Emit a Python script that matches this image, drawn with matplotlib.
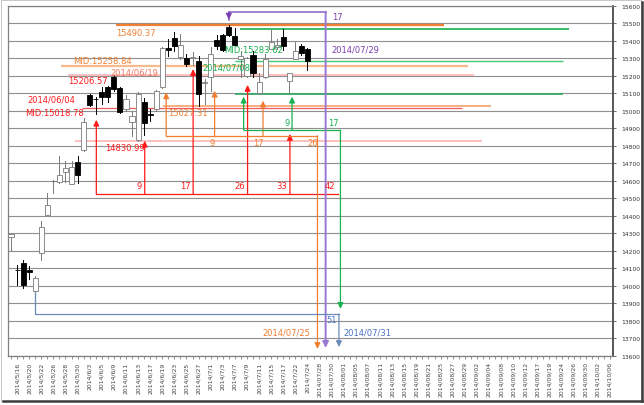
import numpy as np
import matplotlib

matplotlib.use("Agg")
import matplotlib.pyplot as plt
from matplotlib.patches import Rectangle
from matplotlib.lines import Line2D

# category axis: 100 trading days, 2014/5/15 .. 2014/10/06, label on every other day
n_days = 100
tick_labels = [
    "2014/5/16", "2014/5/20", "2014/5/22", "2014/5/26", "2014/5/28", "2014/5/30",
    "2014/6/3", "2014/6/5", "2014/6/9", "2014/6/11", "2014/6/13", "2014/6/17",
    "2014/6/19", "2014/6/23", "2014/6/25", "2014/6/27", "2014/7/1", "2014/7/3",
    "2014/7/7", "2014/7/9", "2014/7/11", "2014/7/15", "2014/7/17", "2014/7/22",
    "2014/7/24", "2014/07/28", "2014/07/30", "2014/08/01", "2014/08/05", "2014/08/07",
    "2014/08/11", "2014/08/13", "2014/08/15", "2014/08/19", "2014/08/21", "2014/08/25",
    "2014/08/27", "2014/08/29", "2014/09/02", "2014/09/04", "2014/09/08", "2014/09/10",
    "2014/09/12", "2014/09/17", "2014/09/19", "2014/09/24", "2014/09/26", "2014/09/30",
    "2014/10/02", "2014/10/06",
]

# daily candles from 2014/5/15 to 2014/7/24
opens = [14282, 14092, 14131, 14090, 13970, 14189, 14407, 14598, 14593, 14650,
         14583, 14707, 14779, 15090, 15070, 15111, 15135, 15196, 15130, 15011,
         14939, 14834, 15050, 14985, 15011, 15135, 15360, 15415, 15307, 15301,
         15300, 15287, 15160, 15193, 15407, 15434, 15480, 15430, 15297, 15202,
         15320, 15100, 15193, 15354, 15366, 15423, 15173, 15297, 15370, 15354]
highs = [14300, 14120, 14151, 14116, 14059, 14373, 14529, 14606, 14745, 14716,
         14716, 14745, 14960, 15097, 15080, 15135, 15143, 15206.57, 15137, 15091,
         14994, 15109, 15073, 15010, 15120, 15366, 15411, 15451, 15440, 15326,
         15335, 15314, 15183, 15364, 15434, 15440, 15490.37, 15474, 15345, 15310,
         15340, 15217, 15326, 15463, 15411, 15469, 15217, 15393, 15380, 15360]
lows = [14200, 14008, 13989, 14040, 13963, 14150, 14405, 14531, 14588, 14594,
        14580, 14589, 14771, 15029, 14985, 15040, 15050, 15114, 14989, 15000,
        14859, 14830.99, 14860, 14940, 15000, 15130, 15316, 15345, 15297, 15259,
        15262, 15027.31, 15040, 15116, 15354, 15340, 15429, 15377, 15193, 15195,
        15194, 15098, 15190, 15354, 15354, 15349, 15107, 15297, 15320, 15234]
closes = [14297, 14090, 14006, 14078, 14044, 14339, 14463, 14602, 14636, 14673,
          14680, 14632, 14935, 15034, 15067, 15080, 15078, 15124, 14996, 15069,
          14973, 15098, 14933, 14976, 15116, 15361, 15349, 15369, 15376, 15267,
          15308, 15095, 15162, 15326, 15370, 15348, 15437, 15379, 15314, 15302,
          15216, 15164, 15297, 15395, 15379, 15370, 15215, 15343, 15329, 15284]

# horizontal levels: price, start day, end day
red_levels = [15206.57, 15018.78, 14830.99]
red_spans = [(9.4, 76.5), (11.7, 74.5), (10.6, 77.8)]
orange_levels = [15490.37, 15258.84, 15027.31]
orange_spans = [(17.35, 71.6), (8.3, 75.5), (25.1, 79.3)]
green_levels = [15468.6, 15283.62, 15097.9]
green_spans = [(37.8, 92.2), (37.0, 91.2), (37.0, 91.2)]

# time counts: day index of arrows, arrow tip prices, baseline price
red_days = [14, 22, 30, 39, 46, 54]
red_counts = ["9", "17", "26", "33", "42"]
red_tips = [14950, 14830, 15240, 15149, 14869]
red_base = 14526
orange_days = [25, 33, 41, 50]
orange_counts = ["9", "17", "26"]
orange_tips = [15107, 15116, 15059]
orange_base = 14859
orange_end_tip = 13640
green_days = [38, 46, 54]
green_counts = ["9", "17"]
green_tips = [15082, 15082]
green_base = 14891
green_end_tip = 13869
purple_days = [36, 52]
purple_top = 15566
purple_tip = 15522
purple_end_tip = 13646
blue_days = [4, 54]
blue_start = 13963
blue_base = 13840
blue_end_tip = 13651

RED = "#ff1a1a"
RED_LIGHT = "#ffb4b4"
ORANGE = "#f07f32"
ORANGE_LIGHT = "#f8b98c"
GREEN = "#19b050"
GREEN_MID = "#45c878"
PURPLE = "#9a78d2"
PURPLE_TXT = "#7a3fb0"
BLUE = "#6a8ab8"
BLUE_TXT = "#4a72c4"

fig = plt.figure(figsize=(6.44, 4.06), dpi=100)
ax = fig.add_axes([8 / 644, 1 - 357 / 406, 605 / 644, 350 / 406])

ax.set_xlim(-0.5, n_days - 0.5)
ax.set_ylim(13600, 15600)
ax.set_yticks(np.arange(13600, 15601, 100))
ax.grid(axis="y", color="#8f8f8f", linewidth=0.8, zorder=0)
ax.set_axisbelow(True)

ax.yaxis.tick_right()
ax.tick_params(axis="y", labelsize=4.3, labelcolor="#333333", length=2, width=0.6,
               color="#555555", pad=4)
ax.set_xticks(np.arange(1, n_days, 2))
ax.set_xticklabels(tick_labels, rotation=90, fontsize=4.4, color="#444444")
ax.set_xticks(np.arange(0, n_days), minor=True)
ax.tick_params(axis="x", which="both", length=1.8, width=0.5, color="#666666", pad=2)

for side in ("left", "top", "bottom"):
    ax.spines[side].set_color("#808080")
    ax.spines[side].set_linewidth(0.9)
ax.spines["right"].set_color("#4a4a4a")
ax.spines["right"].set_linewidth(1.3)

# level lines
def level_lines(levels, spans, colors, widths):
    for price, (x0, x1), c, w in zip(levels, spans, colors, widths):
        ax.plot([x0, x1], [price, price], color=c, linewidth=w, zorder=2,
                solid_capstyle="butt")


level_lines(red_levels, red_spans, [RED_LIGHT, "#f05a5a", RED_LIGHT], [1.2, 0.9, 1.2])
level_lines(orange_levels, orange_spans, [ORANGE, ORANGE_LIGHT, "#f29a60"], [1.6, 1.6, 1.1])
level_lines(green_levels, green_spans, [GREEN, GREEN_MID, "#3aa868"], [1.2, 1.0, 1.3])


def arrow(x, y0, y1, color, lw=0.9):
    ax.annotate("", xy=(x, y1), xytext=(x, y0), zorder=3,
                arrowprops=dict(arrowstyle="-|>,head_length=0.35,head_width=0.17",
                                color=color, lw=lw, shrinkA=0, shrinkB=0))


# red count
shift = 0.1
for d, tip in zip(red_days[:-1], red_tips):
    arrow(d + shift, red_base, tip, RED)
ax.plot([red_days[0] + shift, red_days[-1] + shift], [red_base, red_base],
        color=RED, linewidth=0.9, zorder=3)
for d, label in zip(red_days[1:], red_counts):
    ax.text(d + shift - 0.45, red_base + 25, label, color=RED, fontsize=6,
            ha="right", va="bottom", zorder=6)

# orange count
shift = 0.65
for d, tip in zip(orange_days[:-1], orange_tips):
    arrow(d + shift, orange_base, tip, ORANGE)
ax.plot([orange_days[0] + shift, orange_days[-1] + shift], [orange_base, orange_base],
        color=ORANGE, linewidth=0.9, zorder=3)
arrow(orange_days[-1] + shift, orange_base, orange_end_tip, ORANGE)
for d, label in zip(orange_days[1:], orange_counts):
    ax.text(d + shift + 0.1, orange_base - 12, label, color=ORANGE, fontsize=6,
            ha="right", va="top", zorder=6)

# green count
shift = 0.45
for d, tip in zip(green_days[:-1], green_tips):
    arrow(d + shift, green_base, tip, GREEN)
ax.plot([green_days[0] + shift, green_days[-1] + shift], [green_base, green_base],
        color=GREEN, linewidth=0.9, zorder=3)
arrow(green_days[-1] + shift, green_base, green_end_tip, GREEN)
for d, label in zip(green_days[1:], green_counts):
    ax.text(d + shift - 0.3, green_base + 20, label, color=GREEN, fontsize=6,
            ha="right", va="bottom", zorder=6)

# purple count
ax.plot([purple_days[0], purple_days[0], purple_days[1]],
        [purple_tip, purple_top, purple_top], color=PURPLE, linewidth=1.3, zorder=3)
arrow(purple_days[0], purple_top, purple_tip, PURPLE_TXT, lw=0.9)
arrow(purple_days[1], purple_top, purple_end_tip, PURPLE, lw=1.4)
ax.text(purple_days[1] + 1.0, purple_top - 25, "17", color=PURPLE_TXT, fontsize=6,
        ha="left", va="center", zorder=6)
ax.text(purple_days[1] + 0.9, 15354, "2014/07/29", color=PURPLE_TXT, fontsize=6,
        ha="left", va="center", zorder=6)

# blue count
shift = 0.2
ax.plot([blue_days[0], blue_days[0], blue_days[1] + shift],
        [blue_start, blue_base, blue_base], color=BLUE, linewidth=0.9, zorder=3)
arrow(blue_days[1] + shift, blue_base, blue_end_tip, BLUE)
ax.text(blue_days[1] + shift - 0.3, 13811, "51", color=BLUE_TXT, fontsize=6,
        ha="right", va="center", zorder=6)
ax.text(blue_days[1] + 0.9, 13737, "2014/07/31", color=BLUE_TXT, fontsize=6,
        ha="left", va="center", zorder=6)
ax.text(orange_days[-1] - 0.6, 13737, "2014/07/25", color=ORANGE, fontsize=6,
        ha="right", va="center", zorder=6)

# candles
for i, (o, h, l, c) in enumerate(zip(opens, highs, lows, closes)):
    up = c >= o
    wick = "#7a7a7a" if up else "#000000"
    ax.plot([i, i], [l, h], color=wick, linewidth=0.7, zorder=4)
    bottom = min(o, c)
    height = max(abs(c - o), 4)
    ax.add_patch(Rectangle((i - 0.42, bottom), 0.84, height,
                           facecolor="white" if up else "black",
                           edgecolor="#7a7a7a" if up else "black",
                           linewidth=0.6, zorder=5))

# level labels
labels = [
    (17.35, 15451, "15490.37", ORANGE),
    (10.24, 15291, "MID:15258.84", ORANGE),
    (16.36, 15225, "2014/06/19", "#f07860"),
    (9.42, 15177, "15206.57", RED),
    (2.64, 15069, "2014/06/04", RED),
    (2.31, 14989, "MID:15018.78", RED),
    (15.53, 14789, "14830.99", RED),
    (25.95, 14989, "15027.31", ORANGE),
    (35.2, 15350, "MID:15283.62", GREEN),
    (31.7, 15250, "2014/07/08", GREEN),
]
for x, y, s, c in labels:
    ax.text(x, y, s, color=c, fontsize=6, ha="left", va="center", zorder=6)

# chart frame with shadow
fig.add_artist(Rectangle((0.5 / 644, 4 / 406), 640 / 644, 401 / 406,
                         transform=fig.transFigure, fill=False,
                         edgecolor="#c8c8c8", linewidth=0.7))
fig.add_artist(Line2D([3 / 644, 642 / 644], [4 / 406, 4 / 406],
                      transform=fig.transFigure, color="#3c3c3c", linewidth=1.8))
fig.add_artist(Line2D([642 / 644, 642 / 644], [4 / 406, 403 / 406],
                      transform=fig.transFigure, color="#3c3c3c", linewidth=1.8))

fig.savefig("out.png", dpi=100)
